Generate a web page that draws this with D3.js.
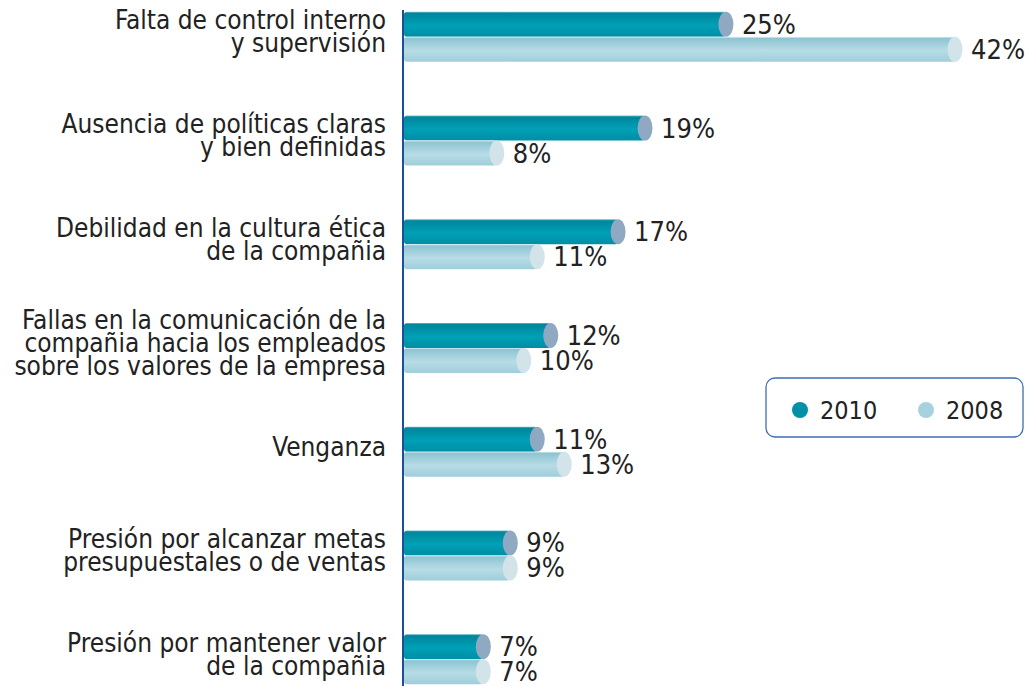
<!DOCTYPE html>
<html>
<head>
<meta charset="utf-8">
<script src="https://cdn.jsdelivr.net/npm/d3@7"></script>
<style>
  body { margin: 0; background: #fff; }
  text { font-family: "DejaVu Sans Condensed", "DejaVu Sans", sans-serif; fill: #222; }
</style>
</head>
<body>
<div class="container"></div>
<script>
// data
const categories = [
  ["Falta de control interno", "y supervisión"],
  ["Ausencia de políticas claras", "y bien definidas"],
  ["Debilidad en la cultura ética", "de la compañia"],
  ["Fallas en la comunicación de la", "compañia hacia los empleados", "sobre los valores de la empresa"],
  ["Venganza"],
  ["Presión por alcanzar metas", "presupuestales o de ventas"],
  ["Presión por mantener valor", "de la compañia"]
];
const years = ["2010", "2008"];
const values2010 = [25, 19, 17, 12, 11, 9, 7];
const values2008 = [42, 8, 11, 10, 13, 9, 7];

const width = 1029, height = 686;
const axisX = 404;
const barH = 25;

const svg = d3.select(".container")
  .append("svg")
  .attr("width", width)
  .attr("height", height);

const defs = svg.append("defs");
function grad(id, stops) {
  const g = defs.append("linearGradient").attr("id", id)
    .attr("x1", 0).attr("y1", 0).attr("x2", 0).attr("y2", 1);
  stops.forEach(s => g.append("stop").attr("offset", s[0]).attr("stop-color", s[1]));
}
grad("g2010", [[0, "#6fbccb"], [0.06, "#00869c"], [0.55, "#00a0b6"], [1, "#008ea5"]]);
grad("g2008", [[0, "#e6f2f6"], [0.06, "#8ec4d2"], [0.55, "#b7dce6"], [1, "#9fcedb"]]);

const rows = categories.map((c, i) => ({ label: c, v2010: values2010[i], v2008: values2008[i], key: c.join(" ") }));

const y = d3.scaleBand()
  .domain(rows.map(d => d.key))
  .range([-15, 711]);

const x = d3.scaleLinear()
  .domain([0, 42])
  .range([389, 955]);

const series = [
  { year: "2010", field: "v2010", fill: "url(#g2010)", cap: "#8fa9c2", dot: "#0090a8", off: -barH },
  { year: "2008", field: "v2008", fill: "url(#g2008)", cap: "#d2e3ea", dot: "#a6d2df", off: 0 }
];

const center = d => y(d.key) + y.bandwidth() / 2;

series.forEach(s => {
  const g = svg.append("g");
  g.selectAll("rect")
    .data(rows)
    .enter()
    .append("rect")
    .attr("x", axisX)
    .attr("y", d => center(d) + s.off)
    .attr("width", d => x(d[s.field]) - axisX)
    .attr("height", barH)
    .attr("rx", 3)
    .attr("fill", s.fill);
  g.selectAll("ellipse")
    .data(rows)
    .enter()
    .append("ellipse")
    .attr("cx", d => x(d[s.field]))
    .attr("cy", d => center(d) + s.off + barH / 2)
    .attr("rx", 7.5)
    .attr("ry", barH / 2)
    .attr("fill", s.cap);
  g.selectAll("text")
    .data(rows)
    .enter()
    .append("text")
    .attr("x", d => x(d[s.field]) + 16)
    .attr("y", d => center(d) + s.off + barH / 2)
    .attr("dominant-baseline", "central")
    .style("font-size", "27px")
    .text(d => d[s.field] + "%");
});

// category labels
const lineH = 23;
const lab = svg.append("g");
rows.forEach(d => {
  const n = d.label.length;
  const t = lab.append("text")
    .attr("text-anchor", "end")
    .attr("dominant-baseline", "central")
    .style("font-size", "26px");
  d.label.forEach((line, i) => {
    t.append("tspan")
      .attr("x", 386)
      .attr("y", center(d) - 5 + (i - (n - 1) / 2) * lineH)
      .text(line);
  });
});

// axis line
svg.append("line")
  .attr("x1", axisX - 1).attr("x2", axisX - 1)
  .attr("y1", 10).attr("y2", height)
  .attr("stroke", "#1d4f98")
  .attr("stroke-width", 2);

// legend
const legend = svg.append("g").attr("transform", "translate(766,378)");
legend.append("rect")
  .attr("width", 257).attr("height", 59).attr("rx", 9)
  .attr("fill", "#fff")
  .attr("stroke", "#3d6db3")
  .attr("stroke-width", 1.3);
const items = legend.selectAll(".item")
  .data(series)
  .enter()
  .append("g")
  .attr("transform", (d, i) => "translate(" + (34 + i * 126) + ",32)");
items.append("circle").attr("r", 8).attr("fill", d => d.dot);
items.append("text")
  .attr("x", 20)
  .attr("dominant-baseline", "central")
  .style("font-size", "25px")
  .text(d => d.year);
</script>
</body>
</html>
